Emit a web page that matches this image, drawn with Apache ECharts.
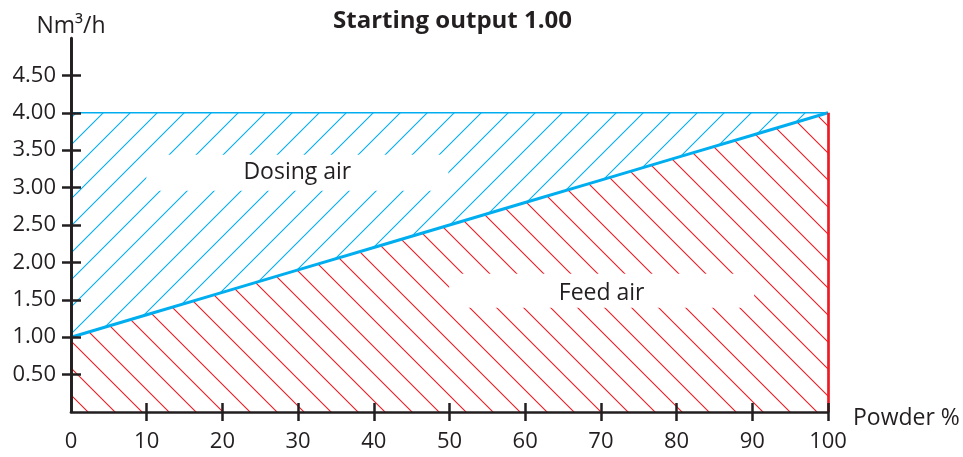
<!DOCTYPE html>
<html>
<head>
<meta charset="utf-8">
<style>
  html, body { margin: 0; padding: 0; background: #fff; }
  #chart { width: 963px; height: 457px; }
</style>
<script src="https://cdn.jsdelivr.net/npm/echarts@6/dist/echarts.min.js"></script>
</head>
<body>
<div id="chart"></div>
<script>
// Powder share (%) along the x axis
const powder = [0, 10, 20, 30, 40, 50, 60, 70, 80, 90, 100];
// Feed air flow (Nm³/h) for each powder share
const feedAir = [1.0, 1.3, 1.6, 1.9, 2.2, 2.5, 2.8, 3.1, 3.4, 3.7, 4.0];
// Total air flow (Nm³/h): feed air plus dosing air
const totalAir = [4.0, 4.0, 4.0, 4.0, 4.0, 4.0, 4.0, 4.0, 4.0, 4.0, 4.0];
// Tick labels
const yTicks = [0.5, 1.0, 1.5, 2.0, 2.5, 3.0, 3.5, 4.0, 4.5];
const xTicks = [10, 20, 30, 40, 50, 60, 70, 80, 90, 100];
const Y_TOP = 5;

const BLUE = '#00aeef';
const RED = '#ed1c24';
const INK = '#231f20';
const FONT = 'Open Sans';

// Diagonal hatch tile; dir '/' rises to the right, '\\' falls to the right
function hatch(color, dir) {
  const s = 27;
  const c = document.createElement('canvas');
  c.width = s; c.height = s;
  const g = c.getContext('2d');
  g.strokeStyle = color;
  g.lineWidth = 1.1;
  g.beginPath();
  if (dir === '/') {
    g.moveTo(-2, s + 2); g.lineTo(s + 2, -2);
    g.moveTo(-2, 2); g.lineTo(2, -2);
    g.moveTo(s - 2, s + 2); g.lineTo(s + 2, s - 2);
  } else {
    g.moveTo(-2, -2); g.lineTo(s + 2, s + 2);
    g.moveTo(-2, s - 2); g.lineTo(2, s + 2);
    g.moveTo(s - 2, -2); g.lineTo(s + 2, 2);
  }
  g.stroke();
  return { image: c, repeat: 'repeat' };
}

const pts = (ys) => powder.map((x, i) => [x, ys[i]]);

const chart = echarts.init(document.getElementById('chart'), null, { renderer: 'canvas' });

const axisLabelStyle = { color: INK, fontFamily: FONT, fontSize: 22 };
const tickLine = { color: INK, width: 2.5 };

chart.setOption({
  animation: false,
  title: {
    text: 'Starting output 1.00',
    left: 328, top: 4,
    textStyle: { fontFamily: FONT, fontSize: 24, fontWeight: 'bold', color: INK }
  },
  grid: { left: 71, right: 135, top: 38, bottom: 45 },
  xAxis: [
    {
      type: 'value', min: 0, max: 100, interval: 10, z: 10,
      name: 'Powder %', nameLocation: 'end', nameGap: 25,
      nameTextStyle: { color: INK, fontFamily: FONT, fontSize: 23, verticalAlign: 'top', lineHeight: 12 },
      axisLine: { onZero: false, lineStyle: { color: INK, width: 2.7 } },
      axisTick: { show: true, length: 9, inside: false, customValues: xTicks, lineStyle: tickLine },
      axisLabel: Object.assign({ margin: 19, customValues: [0].concat(xTicks) }, axisLabelStyle),
      splitLine: { show: false }
    },
    {
      type: 'value', min: 0, max: 100, interval: 10, position: 'bottom', z: 10,
      axisLine: { show: false, onZero: false },
      axisTick: { show: true, length: 9, inside: true, customValues: xTicks, lineStyle: tickLine },
      axisLabel: { show: false },
      splitLine: { show: false }
    }
  ],
  yAxis: [
    {
      type: 'value', min: 0, max: Y_TOP, interval: 0.5, position: 'left', z: 10,
      name: 'Nm³/h', nameLocation: 'end', nameGap: 0,
      nameTextStyle: { color: INK, fontFamily: FONT, fontSize: 23, align: 'center' },
      axisLine: { show: true, onZero: false, lineStyle: { color: INK, width: 2.7 } },
      axisTick: { show: true, length: 9, inside: false, customValues: yTicks, lineStyle: tickLine },
      axisLabel: Object.assign({ margin: 15, customValues: yTicks, formatter: (v) => v.toFixed(2) }, axisLabelStyle),
      splitLine: { show: false }
    },
    {
      type: 'value', min: 0, max: Y_TOP, interval: 0.5, position: 'left', z: 10,
      axisLine: { show: false, onZero: false },
      axisTick: { show: true, length: 10, inside: true, customValues: yTicks, lineStyle: tickLine },
      axisLabel: { show: false },
      splitLine: { show: false }
    }
  ],
  series: [
    {
      // Dosing air region, up to the total flow
      name: 'Dosing air', type: 'line', data: pts(totalAir),
      symbol: 'none', z: 2,
      lineStyle: { color: BLUE, width: 1.5 },
      areaStyle: { color: hatch(BLUE, '/'), opacity: 1 },
      markPoint: {
        symbol: 'rect', symbolSize: [302, 36], silent: true,
        itemStyle: { color: '#fff' },
        label: { show: true, formatter: '{b}', color: INK, fontFamily: FONT, fontSize: 23 },
        data: [{ name: 'Dosing air', coord: [29.9, 3.2] }]
      }
    },
    {
      // Opaque base that hides the blue hatch below the feed line
      name: 'base', type: 'line', data: pts(feedAir),
      symbol: 'none', z: 3,
      lineStyle: { width: 0 },
      areaStyle: { color: '#fff', opacity: 1 }
    },
    {
      name: 'Feed air', type: 'line', data: pts(feedAir),
      symbol: 'none', z: 4, clip: false,
      lineStyle: { color: BLUE, width: 3 },
      areaStyle: { color: hatch(RED, '\\'), opacity: 1 },
      markPoint: {
        symbol: 'rect', symbolSize: [305, 34], silent: true,
        itemStyle: { color: '#fff' },
        label: { show: true, formatter: '{b}', color: INK, fontFamily: FONT, fontSize: 23, offset: [0, 3] },
        data: [{ name: 'Feed air', coord: [70.1, 1.62] }]
      },
      markLine: {
        symbol: 'none', silent: true, label: { show: false },
        data: [
          // Right boundary of the feed air region
          [{ coord: [100, 0], lineStyle: { color: RED, width: 2.7, type: 'solid' } },
           { coord: [100, 4] }],
          // Vertical axis line
          [{ coord: [0, 0], lineStyle: { color: INK, width: 2.7, type: 'solid' } },
           { coord: [0, Y_TOP] }]
        ]
      }
    }
  ]
});
</script>
</body>
</html>
